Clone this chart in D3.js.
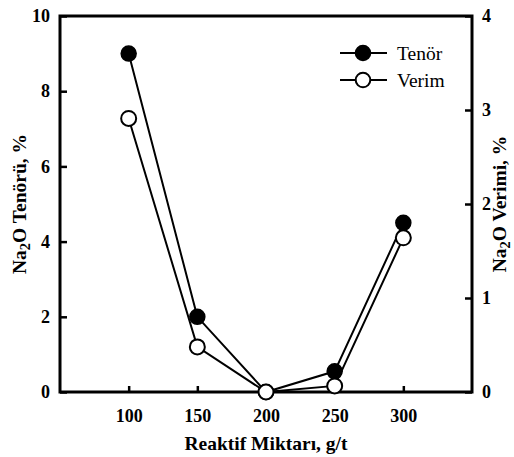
<!DOCTYPE html>
<html>
<head>
<meta charset="utf-8">
<script src="https://cdn.jsdelivr.net/npm/d3@7/dist/d3.min.js"></script>
<style>
  html, body { margin: 0; padding: 0; background: #fff; }
  svg { display: block; }
</style>
</head>
<body>
<svg id="chart" width="514" height="457"></svg>
<script>
// Reagent dose (g/t) and the two measured responses
const doses = [100, 150, 200, 250, 300];
const tenor = [9.0, 2.0, 0.0, 0.55, 4.5];      // Na2O grade, % (left axis)
const verim = [2.91, 0.48, 0.0, 0.065, 1.64];  // Na2O recovery, % (right axis)

const xTicks = [100, 150, 200, 250, 300];
const yLeftTicks = [0, 2, 4, 6, 8, 10];
const yRightTicks = [0, 1, 2, 3, 4];

const seriesNames = ["Tenör", "Verim"];

const FAMILY = '"Liberation Serif", "Times New Roman", serif';

const svg = d3.select("#chart");
const m = { left: 60, right: 472, top: 16, bottom: 392 };

const x = d3.scaleLinear().domain([50, 350]).range([m.left, m.right]);
const yL = d3.scaleLinear().domain([0, 10]).range([m.bottom, m.top]);
const yR = d3.scaleLinear().domain([0, 4]).range([m.bottom, m.top]);

const fmt = d3.format("d");

// Bottom axis: ticks point inward
const gx = svg.append("g").attr("transform", `translate(0,${m.bottom})`)
  .call(d3.axisBottom(x).tickValues(xTicks).tickFormat(fmt)
    .tickSizeInner(-6).tickSizeOuter(0).tickPadding(17));
// Left axis
const gl = svg.append("g").attr("transform", `translate(${m.left},0)`)
  .call(d3.axisLeft(yL).tickValues(yLeftTicks).tickFormat(fmt)
    .tickSizeInner(-7).tickSizeOuter(0).tickPadding(10));
// Right axis
const gr = svg.append("g").attr("transform", `translate(${m.right},0)`)
  .call(d3.axisRight(yR).tickValues(yRightTicks).tickFormat(fmt)
    .tickSizeInner(-7).tickSizeOuter(0).tickPadding(10));

[gx, gl, gr].forEach(g => {
  g.attr("font-family", null).attr("font-size", null);
  g.select(".domain").remove();
  g.selectAll(".tick line").attr("stroke", "#000").attr("stroke-width", 2.5);
  g.selectAll(".tick text")
    .style("font-family", FAMILY).style("font-weight", "bold").style("font-size", "18px")
    .attr("fill", "#000");
});

// Plot frame
svg.append("rect")
  .attr("x", m.left).attr("y", m.top)
  .attr("width", m.right - m.left).attr("height", m.bottom - m.top)
  .attr("fill", "none").attr("stroke", "#000").attr("stroke-width", 3);

// Series lines
const lineL = d3.line().x((d, i) => x(doses[i])).y(d => yL(d));
const lineR = d3.line().x((d, i) => x(doses[i])).y(d => yR(d));

const r = 7.5;

svg.append("path").datum(tenor).attr("d", lineL)
  .attr("fill", "none").attr("stroke", "#000").attr("stroke-width", 2);
svg.append("g").selectAll("circle").data(tenor).join("circle")
  .attr("cx", (d, i) => x(doses[i])).attr("cy", d => yL(d)).attr("r", r)
  .attr("fill", "#000").attr("stroke", "#000").attr("stroke-width", 1.5);

svg.append("path").datum(verim).attr("d", lineR)
  .attr("fill", "none").attr("stroke", "#000").attr("stroke-width", 2);
svg.append("g").selectAll("circle").data(verim).join("circle")
  .attr("cx", (d, i) => x(doses[i])).attr("cy", d => yR(d)).attr("r", r)
  .attr("fill", "#fff").attr("stroke", "#000").attr("stroke-width", 2);

// Legend
const legend = svg.append("g");
seriesNames.forEach((name, i) => {
  const ly = 53 + i * 27;
  legend.append("line").attr("x1", 340).attr("x2", 387).attr("y1", ly).attr("y2", ly)
    .attr("stroke", "#000").attr("stroke-width", 2);
  legend.append("circle").attr("cx", 363).attr("cy", ly).attr("r", 7.3)
    .attr("fill", i === 0 ? "#000" : "#fff").attr("stroke", "#000").attr("stroke-width", 2);
  legend.append("text").attr("x", 397).attr("y", ly + 6.5)
    .style("font-family", FAMILY).style("font-size", "19.5px").text(name);
});

// Axis titles
svg.append("text")
  .attr("x", (m.left + m.right) / 2).attr("y", 450)
  .attr("text-anchor", "middle")
  .style("font-family", FAMILY).style("font-weight", "bold").style("font-size", "19.5px")
  .text("Reaktif Miktarı, g/t");

function yTitle(cx, label) {
  const t = svg.append("text")
    .attr("transform", `translate(${cx},${(m.top + m.bottom) / 2}) rotate(-90)`)
    .attr("text-anchor", "middle")
    .style("font-family", FAMILY).style("font-weight", "bold").style("font-size", "19.5px");
  t.append("tspan").text("Na");
  t.append("tspan").attr("dy", 3.5).style("font-size", "14.5px").text("2");
  t.append("tspan").attr("dy", -3.5).text("O " + label + ", %");
}
yTitle(26, "Tenörü");
yTitle(506, "Verimi");
</script>
</body>
</html>
